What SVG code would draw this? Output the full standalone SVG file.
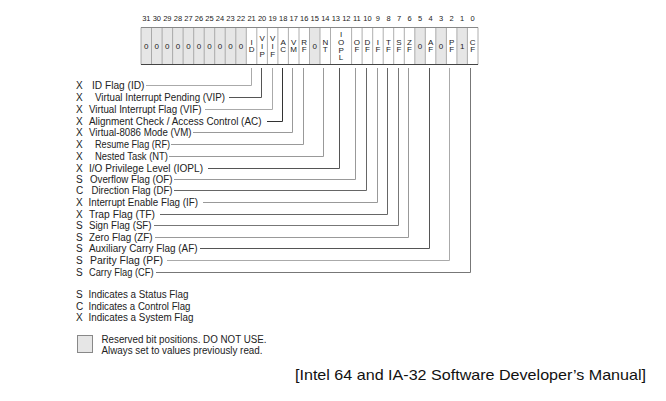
<svg xmlns="http://www.w3.org/2000/svg" width="666" height="401" viewBox="0 0 666 401">
<style>
text{font-family:"Liberation Sans",Arial,sans-serif;fill:#222}
.num{font-size:7.5px;text-anchor:middle;fill:#333}
.cl{font-size:8px;text-anchor:middle;fill:#333}
.lbl{font-size:10px}
.g{fill:#e6e6e6;stroke:none}
.sep{stroke:#999;stroke-width:0.8;fill:none}
.cn{fill:none;stroke-width:1}
</style>
<rect width="666" height="401" fill="#fff"/>
<g id="register">
<rect class="g" x="141" y="27.5" width="105.3" height="37"/>
<rect class="g" x="309.5" y="27.5" width="10.5" height="37"/>
<rect class="g" x="414.8" y="27.5" width="10.5" height="37"/>
<rect class="g" x="435.8" y="27.5" width="10.6" height="37"/>
<rect class="g" x="456.9" y="27.5" width="10.5" height="37"/>
<path class="sep" d="M141,27.5V64.5M151.5,27.5V64.5M162.1,27.5V64.5M172.6,27.5V64.5M183.1,27.5V64.5M193.7,27.5V64.5M204.2,27.5V64.5M214.7,27.5V64.5M225.2,27.5V64.5M235.8,27.5V64.5M246.3,27.5V64.5M256.8,27.5V64.5M267.4,27.5V64.5M277.9,27.5V64.5M288.4,27.5V64.5M299,27.5V64.5M309.5,27.5V64.5M320,27.5V64.5M330.5,27.5V64.5M351.6,27.5V64.5M362.1,27.5V64.5M372.7,27.5V64.5M383.2,27.5V64.5M393.7,27.5V64.5M404.3,27.5V64.5M414.8,27.5V64.5M425.3,27.5V64.5M435.8,27.5V64.5M446.4,27.5V64.5M456.9,27.5V64.5M467.4,27.5V64.5M478,27.5V64.5"/>
<line x1="141" y1="27.5" x2="478" y2="27.5" stroke="#888" stroke-width="1"/>
<line x1="141" y1="64.5" x2="478" y2="64.5" stroke="#444" stroke-width="1"/>
<g class="num">
<text x="146.3" y="21">31</text><text x="156.8" y="21">30</text><text x="167.3" y="21">29</text><text x="177.9" y="21">28</text><text x="188.4" y="21">27</text><text x="198.9" y="21">26</text><text x="209.5" y="21">25</text><text x="220" y="21">24</text><text x="230.5" y="21">23</text><text x="241" y="21">22</text><text x="251.6" y="21">21</text><text x="262.1" y="21">20</text><text x="272.6" y="21">19</text><text x="283.2" y="21">18</text><text x="293.7" y="21">17</text><text x="304.2" y="21">16</text><text x="314.7" y="21">15</text><text x="325.3" y="21">14</text><text x="335.8" y="21">13</text><text x="346.3" y="21">12</text><text x="356.9" y="21">11</text><text x="367.4" y="21">10</text><text x="377.9" y="21">9</text><text x="388.5" y="21">8</text><text x="399" y="21">7</text><text x="409.5" y="21">6</text><text x="420.1" y="21">5</text><text x="430.6" y="21">4</text><text x="441.1" y="21">3</text><text x="451.6" y="21">2</text><text x="462.2" y="21">1</text><text x="472.7" y="21">0</text>
</g>
<g class="cl">
<text x="146.3" y="48.8">0</text><text x="156.8" y="48.8">0</text><text x="167.3" y="48.8">0</text><text x="177.9" y="48.8">0</text><text x="188.4" y="48.8">0</text><text x="198.9" y="48.8">0</text><text x="209.5" y="48.8">0</text><text x="220" y="48.8">0</text><text x="230.5" y="48.8">0</text><text x="241" y="48.8">0</text>
<text x="314.7" y="48.8">0</text><text x="420.1" y="48.8">0</text><text x="441.1" y="48.8">0</text><text x="462.2" y="48.8">1</text>
<text y="44.8"><tspan x="251.6">I</tspan><tspan x="251.6" dy="7.5">D</tspan></text>
<text y="41.3"><tspan x="262.1">V</tspan><tspan x="262.1" dy="7.7">I</tspan><tspan x="262.1" dy="7.7">P</tspan></text>
<text y="41.3"><tspan x="272.6">V</tspan><tspan x="272.6" dy="7.7">I</tspan><tspan x="272.6" dy="7.7">F</tspan></text>
<text y="44.8"><tspan x="283.2">A</tspan><tspan x="283.2" dy="7.5">C</tspan></text>
<text y="44.8"><tspan x="293.7">V</tspan><tspan x="293.7" dy="7.5">M</tspan></text>
<text y="44.8"><tspan x="304.2">R</tspan><tspan x="304.2" dy="7.5">F</tspan></text>
<text y="44.8"><tspan x="325.3">N</tspan><tspan x="325.3" dy="7.5">T</tspan></text>
<text y="37.3"><tspan x="341.1">I</tspan><tspan x="341.1" dy="7.7">O</tspan><tspan x="341.1" dy="7.7">P</tspan><tspan x="341.1" dy="7.7">L</tspan></text>
<text y="44.8"><tspan x="356.9">O</tspan><tspan x="356.9" dy="7.5">F</tspan></text>
<text y="44.8"><tspan x="367.4">D</tspan><tspan x="367.4" dy="7.5">F</tspan></text>
<text y="44.8"><tspan x="377.9">I</tspan><tspan x="377.9" dy="7.5">F</tspan></text>
<text y="44.8"><tspan x="388.5">T</tspan><tspan x="388.5" dy="7.5">F</tspan></text>
<text y="44.8"><tspan x="399">S</tspan><tspan x="399" dy="7.5">F</tspan></text>
<text y="44.8"><tspan x="409.5">Z</tspan><tspan x="409.5" dy="7.5">F</tspan></text>
<text y="44.8"><tspan x="430.6">A</tspan><tspan x="430.6" dy="7.5">F</tspan></text>
<text y="44.8"><tspan x="451.6">P</tspan><tspan x="451.6" dy="7.5">F</tspan></text>
<text y="44.8"><tspan x="472.7">C</tspan><tspan x="472.7" dy="7.5">F</tspan></text>
</g>
</g>
<g id="labels" class="lbl">
<g id="n-id"><text x="76" y="89">X</text><text x="92" y="89" textLength="52.5" lengthAdjust="spacingAndGlyphs">ID Flag (ID)</text></g>
<g id="n-vip"><text x="76" y="101">X</text><text x="95" y="101" textLength="130" lengthAdjust="spacingAndGlyphs">Virtual Interrupt Pending (VIP)</text></g>
<g id="n-vif"><text x="76" y="113">X</text><text x="89" y="113" textLength="112.5" lengthAdjust="spacingAndGlyphs">Virtual Interrupt Flag (VIF)</text></g>
<g id="n-ac"><text x="76" y="125">X</text><text x="89" y="125" textLength="172.5" lengthAdjust="spacingAndGlyphs">Alignment Check / Access Control (AC)</text></g>
<g id="n-vm"><text x="76" y="136">X</text><text x="89" y="136" textLength="102.5" lengthAdjust="spacingAndGlyphs">Virtual-8086 Mode (VM)</text></g>
<g id="n-rf"><text x="76" y="148">X</text><text x="95" y="148" textLength="75" lengthAdjust="spacingAndGlyphs">Resume Flag (RF)</text></g>
<g id="n-nt"><text x="76" y="160">X</text><text x="95" y="160" textLength="73" lengthAdjust="spacingAndGlyphs">Nested Task (NT)</text></g>
<g id="n-iopl"><text x="76" y="172">X</text><text x="89" y="172" textLength="114" lengthAdjust="spacingAndGlyphs">I/O Privilege Level (IOPL)</text></g>
<g id="n-of"><text x="76" y="183">S</text><text x="90" y="183" textLength="82.5" lengthAdjust="spacingAndGlyphs">Overflow Flag (OF)</text></g>
<g id="n-df"><text x="76" y="194">C</text><text x="91.5" y="194" textLength="81" lengthAdjust="spacingAndGlyphs">Direction Flag (DF)</text></g>
<g id="n-if"><text x="76" y="206">X</text><text x="88.5" y="206" textLength="109.5" lengthAdjust="spacingAndGlyphs">Interrupt Enable Flag (IF)</text></g>
<g id="n-tf"><text x="76" y="218">X</text><text x="89" y="218" textLength="66" lengthAdjust="spacingAndGlyphs">Trap Flag (TF)</text></g>
<g id="n-sf"><text x="76" y="229">S</text><text x="89" y="229" textLength="62.5" lengthAdjust="spacingAndGlyphs">Sign Flag (SF)</text></g>
<g id="n-zf"><text x="76" y="241">S</text><text x="89" y="241" textLength="63.5" lengthAdjust="spacingAndGlyphs">Zero Flag (ZF)</text></g>
<g id="n-af"><text x="76" y="252">S</text><text x="89" y="252" textLength="108.5" lengthAdjust="spacingAndGlyphs">Auxiliary Carry Flag (AF)</text></g>
<g id="n-pf"><text x="76" y="264">S</text><text x="90" y="264" textLength="73" lengthAdjust="spacingAndGlyphs">Parity Flag (PF)</text></g>
<g id="n-cf"><text x="76" y="276">S</text><text x="89" y="276" textLength="64.5" lengthAdjust="spacingAndGlyphs">Carry Flag (CF)</text></g>
</g>
<g id="connectors" class="cn">
<path stroke="#aaa" d="M146,85.5H251.5V68"/>
<path stroke="#555" d="M229,97.5H261.5V68"/>
<path stroke="#aaa" d="M205,109.5H272.5V68"/>
<path stroke="#333" d="M267,121.5H282.5V68"/>
<path stroke="#999" d="M193,132.5H292.5V68"/>
<path stroke="#999" d="M171,144.5H303.5V68"/>
<path stroke="#999" d="M169,156.5H323.5V68"/>
<path stroke="#555" d="M208,168.5H339.5V68"/>
<path stroke="#999" d="M174,179.5H355.5V68"/>
<path stroke="#666" d="M174,190.5H366.5V68"/>
<path stroke="#999" d="M203,202.5H377.5V68"/>
<path stroke="#666" d="M160,214.5H387.5V68"/>
<path stroke="#777" d="M154,225.5H398.5V68"/>
<path stroke="#999" d="M155,237.5H408.5V68"/>
<path stroke="#555" d="M200,248.5H429.5V68"/>
<path stroke="#aaa" d="M167,260.5H449.5V68"/>
<path stroke="#777" d="M156,272.5H470.5V68"/>
</g>
<g id="legend" class="lbl">
<text x="76" y="298">S</text><text x="88.5" y="298" textLength="100" lengthAdjust="spacingAndGlyphs">Indicates a Status Flag</text>
<text x="76" y="309.5">C</text><text x="88.5" y="309.5" textLength="102" lengthAdjust="spacingAndGlyphs">Indicates a Control Flag</text>
<text x="76" y="321">X</text><text x="88.5" y="321" textLength="105" lengthAdjust="spacingAndGlyphs">Indicates a System Flag</text>
<rect x="77.5" y="335.5" width="15" height="17" fill="#e6e6e6" stroke="#888" stroke-width="1"/>
<text x="101.5" y="342.5" textLength="165" lengthAdjust="spacingAndGlyphs">Reserved bit positions. DO NOT USE.</text>
<text x="101.5" y="354" textLength="161" lengthAdjust="spacingAndGlyphs">Always set to values previously read.</text>
</g>
<text id="caption" x="295" y="380" textLength="351" lengthAdjust="spacingAndGlyphs" style="font-size:14.5px;fill:#111">[Intel 64 and IA-32 Software Developer’s Manual]</text>
</svg>
